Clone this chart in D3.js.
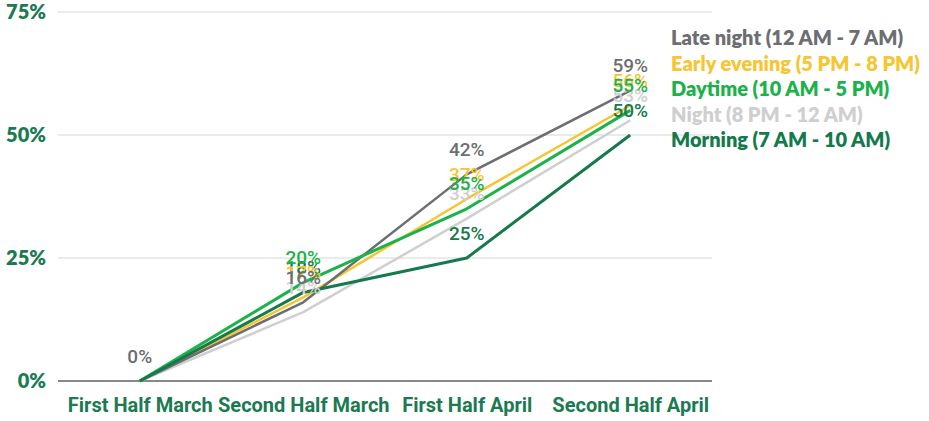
<!DOCTYPE html>
<html><head><meta charset="utf-8">
<script src="https://cdn.jsdelivr.net/npm/d3@7"></script>
<style>body{margin:0;background:#fff}svg{display:block}</style>
</head><body><svg id="c" width="929" height="421"></svg>
<script>
const categories = ["First Half March","Second Half March","First Half April","Second Half April"];
const yTicks = [0,25,50,75];
const lateNight = [0,16,42,59];
const earlyEvening = [0,17,37,56];
const daytime = [0,20,35,55];
const night = [0,14,33,53];
const morning = [0,18,25,50];
const seriesNames = ["Late night (12 AM - 7 AM)","Early evening (5 PM - 8 PM)","Daytime (10 AM - 5 PM)","Night (8 PM - 12 AM)","Morning (7 AM - 10 AM)"];
const seriesColors = ["#6d6e71","#f6c532","#1bb24a","#cfcfcf","#147a4c"];

const series = [
  {name:seriesNames[0], values:lateNight, color:seriesColors[0], w:2.5},
  {name:seriesNames[1], values:earlyEvening, color:seriesColors[1], w:2.5},
  {name:seriesNames[2], values:daytime, color:seriesColors[2], w:3},
  {name:seriesNames[3], values:night, color:seriesColors[3], w:2.5},
  {name:seriesNames[4], values:morning, color:seriesColors[4], w:3}
];

const svg = d3.select("#c");
const x0 = 58, x1 = 712, yTop = 12, yBot = 381;
const x = d3.scalePoint().domain(categories).range([x0,x1]).padding(0.5);
const y = d3.scaleLinear().domain([0,75]).range([yBot,yTop]);
const axisColor = "#1b7a52";

// grid
const grid = svg.append("g");
grid.selectAll("line").data(yTicks.filter(d=>d>0)).join("line")
  .attr("x1",x0).attr("x2",x1).attr("y1",d=>y(d)).attr("y2",d=>y(d))
  .attr("stroke","#d6d6d6").attr("stroke-width",1);

// y axis labels
const yAxis = d3.axisLeft(y).tickValues(yTicks).tickFormat(d=>d+"%").tickSize(0).tickPadding(0);
const ya = svg.append("g").attr("transform","translate(46,0)").call(yAxis);
ya.select(".domain").remove();
ya.selectAll("text").attr("fill",axisColor).attr("font-family","Lato").attr("font-weight",800).attr("font-size","20px");

// baseline
svg.append("line").attr("x1",x0).attr("x2",x1).attr("y1",y(0)).attr("y2",y(0)).attr("stroke","#888").attr("stroke-width",2);

// x axis
const xAxis = d3.axisBottom(x).tickSize(0).tickPadding(0);
const xa = svg.append("g").attr("transform",`translate(0,${yBot+16})`).call(xAxis);
xa.select(".domain").remove();
xa.selectAll("text").attr("fill",axisColor).attr("font-family","Roboto").attr("font-weight",700).attr("font-size","20px").attr("dy","0.35em").attr("y",8);

// lines
const line = d3.line().x((d,i)=>x(categories[i])).y(d=>y(d));
const lineOrder = [3,1,0,2,4];
svg.append("g").selectAll("path").data(lineOrder.map(i=>series[i])).join("path")
  .attr("d",d=>line(d.values)).attr("fill","none").attr("stroke",d=>d.color).attr("stroke-width",d=>d.w)
  .attr("stroke-linejoin","round");

// labels
const labelOrder = [4,3,1,2,0];
const lg = svg.append("g");
labelOrder.forEach(si=>{
  const s = series[si];
  s.values.forEach((v,i)=>{
    if(i===0 && si!==0) return;
    lg.append("text").attr("x",x(categories[i])).attr("y",y(v)-25).attr("dy","0.35em")
      .attr("text-anchor","middle").attr("fill",s.color).attr("font-family","Roboto").attr("font-weight",500)
      .attr("font-size","19px").text(v+"%");
  });
});

// legend
const leg = svg.append("g").attr("transform","translate(671,38)");
leg.selectAll("text").data(series).join("text")
  .attr("x",0).attr("y",(d,i)=>i*25.5).attr("dy","0.35em")
  .attr("fill",d=>d.color).attr("font-family","Lato").attr("font-weight",800).attr("font-size","20px")
  .text(d=>d.name);
</script></body></html>
